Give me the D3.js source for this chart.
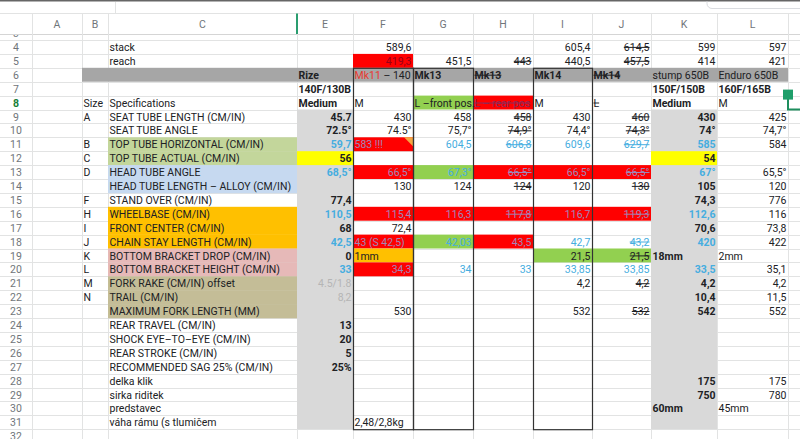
<!DOCTYPE html>
<html>
<head>
<meta charset="utf-8">
<script src="https://cdn.jsdelivr.net/npm/d3@7"></script>
<style>
body { margin: 0; background: #fff; }
text { font-family: Roboto, "Noto Sans", sans-serif; }
</style>
</head>
<body>
<svg id="sheet" width="800" height="439"></svg>
<script>
// visible sheet rows 4..31
var rowNums = d3.range(4, 32);
var colLetters = ["A", "B", "C", "E", "F", "G", "H", "I", "J", "K", "L"];

var colB = ["", "", "", "", "Size", "A", "", "B", "C", "D", "", "F", "H", "I", "J", "K", "L", "M", "N",
  "", "", "", "", "", "", "", "", ""];
var colC = ["stack", "reach", "", "", "Specifications", "SEAT TUBE LENGTH (CM/IN)", "SEAT TUBE ANGLE",
  "TOP TUBE HORIZONTAL (CM/IN)", "TOP TUBE ACTUAL (CM/IN)", "HEAD TUBE ANGLE",
  "HEAD TUBE LENGTH – ALLOY (CM/IN)", "STAND OVER (CM/IN)", "WHEELBASE (CM/IN)",
  "FRONT CENTER (CM/IN)", "CHAIN STAY LENGTH (CM/IN)", "BOTTOM BRACKET DROP (CM/IN)",
  "BOTTOM BRACKET HEIGHT (CM/IN)", "FORK RAKE (CM/IN) offset", "TRAIL (CM/IN)",
  "MAXIMUM FORK LENGTH (MM)", "REAR TRAVEL (CM/IN)", "SHOCK EYE–TO–EYE (CM/IN)",
  "REAR STROKE (CM/IN)", "RECOMMENDED SAG 25% (CM/IN)", "delka klik", "sirka riditek",
  "predstavec", "váha rámu (s tlumičem"];
var colE = ["", "", "Rize", "140F/130B", "Medium", "45.7", "72.5°", "59,7", "56", "68,5°", "", "77,4",
  "110,5", "68", "42,5", "0", "33", "4.5/1.8", "8,2", "", "13", "20", "5", "25%", "", "", "", ""];
var colF = ["589,6", "419,3", "Mk11 – 140", "", "M", "430", "74.5°", "583 !!!", "", "66,5°", "130", "",
  "115,4", "72,4", "43 (S 42,5)", "1mm", "34,3", "", "", "530", "", "", "", "", "", "", "", "2,48/2,8kg"];
var colG = ["", "451,5", "Mk13", "", "L –front pos.", "458", "75,7°", "604,5", "", "67,3°", "124", "",
  "116,3", "", "42,03", "", "34", "", "", "", "", "", "", "", "", "", "", ""];
var colH = ["", "443", "Mk13", "", "L – rear pos", "458", "74,9°", "606,8", "", "66,5°", "124", "",
  "117,8", "", "43,5", "", "33", "", "", "", "", "", "", "", "", "", "", ""];
var colI = ["605,4", "440,5", "Mk14", "", "M", "430", "74,4°", "609,6", "", "66,5°", "120", "",
  "116,7", "", "42,7", "21,5", "33,85", "4,2", "", "532", "", "", "", "", "", "", "", ""];
var colJ = ["614,5", "457,5", "Mk14", "", "L", "460", "74,3°", "629,7", "", "66,5°", "130", "",
  "119,3", "", "43,2", "21,5", "33,85", "4,2", "", "532", "", "", "", "", "", "", "", ""];
var colK = ["599", "414", "stump 650B", "150F/150B", "Medium", "430", "74°", "585", "54", "67°", "105",
  "74,3", "112,6", "70,6", "420", "18mm", "33,5", "4,2", "10,4", "542", "", "", "", "", "175", "750",
  "60mm", ""];
var colL = ["597", "421", "Enduro 650B", "160F/165B", "M", "425", "74,7°", "584", "", "65,5°", "120",
  "776", "116", "73,8", "422", "2mm", "35,1", "4,2", "11,5", "552", "", "", "", "", "175", "780",
  "45mm", ""];

var columns = {B: colB, C: colC, E: colE, F: colF, G: colG, H: colH, I: colI, J: colJ, K: colK, L: colL};

// ---- styles ----
var RED = "#ff0000", GREEN = "#92d050", AMBER = "#ffc000", YELLOW = "#ffff00";
var cellFill = {
  F5: RED, F11: RED, F13: RED, F16: RED, F18: RED, F19: AMBER, F20: RED,
  G8: GREEN, G13: GREEN, G16: RED, G18: GREEN,
  H8: RED, H13: RED, H16: RED, H18: RED,
  I13: RED, I16: RED, I19: GREEN,
  J13: RED, J16: RED, J19: GREEN,
  E12: YELLOW, K12: YELLOW
};
var specFill = {11: "#c3d69b", 12: "#c3d69b", 13: "#c6d9f0", 14: "#c6d9f0", 16: AMBER, 17: AMBER, 18: AMBER,
  19: "#e6b9b8", 20: "#e6b9b8", 21: "#c4bd97", 22: "#c4bd97", 23: "#c4bd97"};

var blue = "#45ade0", lav = "#9f86b8";
var textColor = {
  F5: "#980016", H8: "#8a2a5a", E21: "#b5b5b5", E22: "#b5b5b5"
};
["E11","E13","E16","E18","E20","G11","G13","G18","G20","H11","H20","I11","I18","I20",
 "J11","J18","J20","K11","K13","K16","K18","K20"].forEach(function(k) { textColor[k] = blue; });
["F11","F13","F16","F18","F20","G16","H13","H16","H18","I13","I16","J13","J16"]
  .forEach(function(k) { textColor[k] = lav; });

var struck = ["H5","H6","H8","H9","H10","H11","H13","H14","H16",
  "J4","J5","J6","J8","J9","J10","J11","J13","J14","J16","J18","J19","J21","J23"];

function isBold(c, r) {
  if (c == "E") return r >= 6 && r != 21 && r != 22;
  if (c == "K") return r >= 7;
  if (c == "L") return r == 7;
  if (r == 6) return ["E", "G", "H", "I", "J"].indexOf(c) >= 0;
  return false;
}

// ---- layout ----
var edges = [0, 32, 82, 108, 297, 353, 413, 473, 533, 592, 651, 717, 788];
var colLeft = d3.scaleOrdinal().domain(colLetters).range(edges.slice(1, 12));
var colRight = d3.scaleOrdinal().domain(colLetters).range(edges.slice(2, 13));
var y = d3.scaleLinear().domain([4, 32]).range([40, 429.2]);
var rowH = y(5) - y(4);
var headTop = 13, headBot = 35;

var svg = d3.select("#sheet");
svg.append("defs").append("clipPath").attr("id", "body")
  .append("rect").attr("x", 0).attr("y", headBot).attr("width", 800).attr("height", 439 - headBot);

var grid = "#e2e3e3", hdrText = "#70757a";

var body = svg.append("g").attr("clip-path", "url(#body)");

// grid lines
body.selectAll(".hl").data(d3.range(3, 34)).enter().append("line")
  .attr("x1", 0).attr("x2", 800)
  .attr("y1", function(r) { return Math.round(y(r)) + 0.5; })
  .attr("y2", function(r) { return Math.round(y(r)) + 0.5; })
  .attr("stroke", grid);
body.selectAll(".vl").data(edges.slice(1)).enter().append("line")
  .attr("x1", function(d) { return d + 0.5; }).attr("x2", function(d) { return d + 0.5; })
  .attr("y1", headBot).attr("y2", 439)
  .attr("stroke", grid);

// gray rize / stump columns
["E", "K"].forEach(function(c) {
  body.append("rect")
    .attr("x", colLeft(c)).attr("y", y(9))
    .attr("width", colRight(c) - colLeft(c)).attr("height", y(32) - y(9))
    .attr("fill", "#d9d9d9");
});
// model header band
body.append("rect")
  .attr("x", colLeft("B")).attr("y", y(6))
  .attr("width", colRight("L") - colLeft("B")).attr("height", rowH)
  .attr("fill", "#a6a6a6");
// specification colour bands
body.selectAll(".spec").data(Object.keys(specFill)).enter().append("rect")
  .attr("x", colLeft("C")).attr("y", function(r) { return y(+r); })
  .attr("width", colRight("C") - colLeft("C")).attr("height", rowH + 0.3)
  .attr("fill", function(r) { return specFill[r]; });
// individual cells
body.selectAll(".fill").data(Object.keys(cellFill)).enter().append("rect")
  .attr("x", function(k) { return colLeft(k[0]); })
  .attr("y", function(k) { return y(+k.slice(1)); })
  .attr("width", function(k) { return colRight(k[0]) - colLeft(k[0]); })
  .attr("height", rowH)
  .attr("fill", function(k) { return cellFill[k]; });
// comment marker on F11
body.append("path")
  .attr("d", "M" + (colRight("F") - 9) + "," + y(11) + "H" + colRight("F") + "V" + (y(11) + 9) + "Z")
  .attr("fill", "#f4a742");

// black boxes around model columns
["F", "G", "I"].forEach(function(c) {
  body.append("rect")
    .attr("x", colLeft(c) + 0.5).attr("y", y(6) + 0.5)
    .attr("width", colRight(c) - colLeft(c)).attr("height", y(32) - y(6))
    .attr("fill", "none").attr("stroke", "#333").attr("stroke-width", 1.2);
});

// cell texts
var cells = [];
Object.keys(columns).forEach(function(c) {
  columns[c].forEach(function(v, i) {
    if (v !== "") cells.push({col: c, row: rowNums[i], value: v});
  });
});

var fs = 10.5;
var txt = body.selectAll(".cell").data(cells).enter().append("text")
  .attr("class", "cell")
  .attr("font-size", fs)
  .attr("font-weight", function(d) { return isBold(d.col, d.row) ? "bold" : "normal"; })
  .attr("fill", function(d) { return textColor[d.col + d.row] || "#202124"; })
  .attr("y", function(d) { return y(d.row) + 11; })
  .each(function(d) {
    d.left = /[A-Za-z!]/.test(d.value);
    d3.select(this)
      .attr("x", d.left ? colLeft(d.col) + 1.5 : colRight(d.col) - 1.5)
      .attr("text-anchor", d.left ? "start" : "end");
    if (d.col == "F" && d.row == 6) {
      d3.select(this).append("tspan").attr("fill", "#e8382e").text("Mk11");
      d3.select(this).append("tspan").text(" – 140");
    } else {
      d3.select(this).text(d.value);
    }
  });

// strikethrough
txt.filter(function(d) { return struck.indexOf(d.col + d.row) >= 0; }).each(function(d) {
  var w = this.getComputedTextLength();
  var x0 = d.left ? colLeft(d.col) + 1.5 : colRight(d.col) - 1.5 - w;
  body.append("line")
    .attr("x1", x0).attr("x2", x0 + w)
    .attr("y1", y(d.row) + 7.4).attr("y2", y(d.row) + 7.4)
    .attr("stroke", d3.select(this).attr("fill")).attr("stroke-width", 1);
});

// row numbers
body.selectAll(".rn").data(d3.range(3, 33)).enter().append("text")
  .attr("x", 16).attr("y", function(r) { return y(r) + 11; })
  .attr("text-anchor", "middle").attr("font-size", fs)
  .attr("fill", function(r) { return r == 8 ? "#188038" : hdrText; })
  .attr("font-weight", function(r) { return r == 8 ? "bold" : "normal"; })
  .text(function(r) { return r; });

// selection handle at M8
body.append("path")
  .attr("d", "M788," + y(8) + "V" + y(9) + "H800")
  .attr("fill", "none").attr("stroke", "#1e8e5e").attr("stroke-width", 2);
body.append("rect")
  .attr("x", 783).attr("y", y(8) - 6).attr("width", 10).attr("height", 10)
  .attr("fill", "#1e9e6a");

// ---- column header ----
svg.append("rect").attr("x", 0).attr("y", 0).attr("width", 800).attr("height", headBot).attr("fill", "#fff");
svg.append("line").attr("x1", 0).attr("x2", 800).attr("y1", 0.8).attr("y2", 0.8)
  .attr("stroke", "#666").attr("stroke-width", 1.6);
svg.append("line").attr("x1", 115.5).attr("x2", 115.5).attr("y1", 2).attr("y2", headTop)
  .attr("stroke", grid);
svg.append("path").attr("d", "M800,8.5H712a5,5 0 0 1 -5,-5V1.5")
  .attr("fill", "none").attr("stroke", "#dadce0");
svg.append("line").attr("x1", 0).attr("x2", 800).attr("y1", headTop + 0.5).attr("y2", headTop + 0.5)
  .attr("stroke", grid);
svg.append("line").attr("x1", 0).attr("x2", 800).attr("y1", headBot - 0.5).attr("y2", headBot - 0.5)
  .attr("stroke", "#d5d5d5");
svg.selectAll(".hv").data(edges.slice(1)).enter().append("line")
  .attr("x1", function(d) { return d + 0.5; }).attr("x2", function(d) { return d + 0.5; })
  .attr("y1", headTop).attr("y2", headBot)
  .attr("stroke", grid);
svg.selectAll(".ch").data(colLetters).enter().append("text")
  .attr("x", function(c) { return (colLeft(c) + colRight(c)) / 2; })
  .attr("y", 28).attr("text-anchor", "middle").attr("font-size", fs)
  .attr("fill", hdrText)
  .text(function(c) { return c; });
// hidden column D marker
svg.append("rect").attr("x", 296).attr("y", headTop + 0.5).attr("width", 2).attr("height", headBot - headTop - 1.5)
  .attr("fill", "#2a9d6f");
</script>
</body>
</html>
